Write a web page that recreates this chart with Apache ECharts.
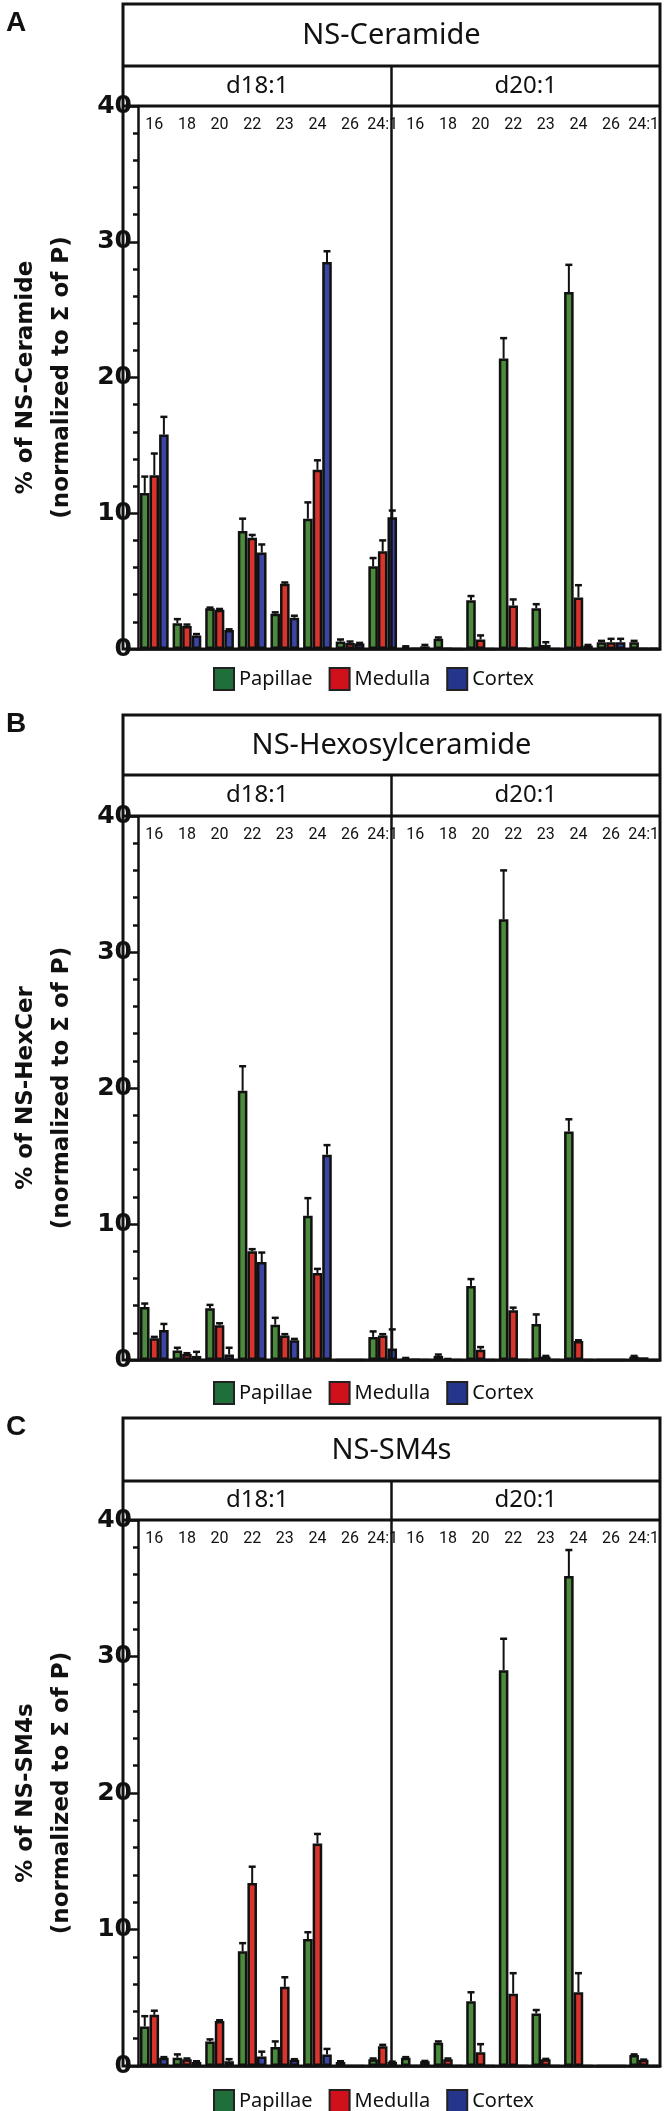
<!DOCTYPE html>
<html>
<head>
<meta charset="utf-8">
<script src="https://cdn.jsdelivr.net/npm/echarts@6/dist/echarts.min.js"></script>
<style>html,body{margin:0;padding:0;background:#fff;}#c{width:667px;height:2111px;}</style>
</head>
<body>
<div id="c"></div>
<script>
// ---------- DATA ----------
const tickLabels = ['16','18','20','22','23','24','26','24:1','16','18','20','22','23','24','26','24:1'];
const groupLabels = ['d18:1', 'd20:1'];
const seriesNames = ['Papillae', 'Medulla', 'Cortex'];
const panelTitles = ['NS-Ceramide', 'NS-Hexosylceramide', 'NS-SM4s'];
const panelLetters = ['A', 'B', 'C'];
const axisNames = ['% of NS-Ceramide', '% of NS-HexCer', '% of NS-SM4s'];
const axisSubName = '(normalized to \u03A3 of P)';
const yTicks = [0, 10, 20, 30, 40];

// NS-Ceramide
const cerPapillae = [11.5, 1.9, 3.0, 8.7, 2.6, 9.6, 0.55, 6.1,   0.15, 0.75, 3.6, 21.4, 3.0, 26.3, 0.5, 0.5];
const cerPapillaeErr = [1.2, 0.3, 0.05, 0.9, 0.1, 1.2, 0.15, 0.6,  0.05, 0.1, 0.3, 1.5, 0.3, 2.0, 0.1, 0.1];
const cerMedulla = [12.8, 1.7, 2.9, 8.2, 4.8, 13.2, 0.45, 7.2,   0.02, 0.05, 0.7, 3.2, 0.3, 3.8, 0.5, 0.05];
const cerMedullaErr = [1.6, 0.1, 0.05, 0.2, 0.1, 0.7, 0.1, 0.8,   0, 0, 0.3, 0.45, 0.2, 0.9, 0.25, 0];
const cerCortex = [15.8, 1.0, 1.4, 7.1, 2.3, 28.5, 0.4, 9.7,   0.2, 0, 0, 0.05, 0, 0.25, 0.5, 0.02];
const cerCortexErr = [1.3, 0.1, 0.05, 0.6, 0.15, 0.8, 0.05, 0.5,   0.1, 0, 0, 0, 0, 0.05, 0.25, 0];

// NS-HexCer
const hexPapillae = [3.9, 0.7, 3.8, 19.8, 2.6, 10.6, 0, 1.7,   0.1, 0.3, 5.45, 32.4, 2.65, 16.8, 0, 0.25];
const hexPapillaeErr = [0.25, 0.2, 0.25, 1.8, 0.5, 1.3, 0, 0.4,   0.05, 0.1, 0.5, 3.6, 0.7, 0.9, 0, 0.05];
const hexMedulla = [1.6, 0.45, 2.55, 8.0, 1.8, 6.4, 0, 1.8,   0.02, 0.15, 0.75, 3.65, 0.25, 1.4, 0, 0.2];
const hexMedullaErr = [0.1, 0.05, 0.15, 0.15, 0.1, 0.3, 0, 0.1,   0, 0, 0.2, 0.2, 0.05, 0.05, 0, 0];
const hexCortex = [2.2, 0.3, 0.4, 7.2, 1.45, 15.1, 0, 0.85,   0, 0, 0, 0, 0, 0, 0, 0];
const hexCortexErr = [0.45, 0.3, 0.5, 0.7, 0.1, 0.7, 0, 1.4,   0, 0, 0, 0, 0, 0, 0, 0];

// NS-SM4s
const smPapillae = [2.9, 0.6, 1.8, 8.4, 1.4, 9.3, 0.3, 0.5,   0.6, 1.7, 4.75, 29.0, 3.85, 35.9, 0, 0.8];
const smPapillaeErr = [0.75, 0.25, 0.15, 0.6, 0.4, 0.5, 0.05, 0.05,   0.05, 0.1, 0.65, 2.3, 0.25, 1.9, 0, 0.05];
const smMedulla = [3.75, 0.5, 3.3, 13.4, 5.8, 16.3, 0, 1.45,   0, 0.5, 1.0, 5.3, 0.5, 5.4, 0, 0.45];
const smMedullaErr = [0.3, 0.05, 0.05, 1.2, 0.7, 0.7, 0, 0.1,   0, 0.05, 0.6, 1.5, 0.02, 1.4, 0, 0.02];
const smCortex = [0.6, 0.3, 0.35, 0.7, 0.45, 0.85, 0, 0.3,   0.35, 0, 0, 0, 0, 0, 0, 0];
const smCortexErr = [0.05, 0.05, 0.15, 0.35, 0.05, 0.4, 0, 0.02,   0.02, 0, 0, 0, 0, 0, 0, 0];

const panelValues = [
  [cerPapillae, cerMedulla, cerCortex],
  [hexPapillae, hexMedulla, hexCortex],
  [smPapillae, smMedulla, smCortex]
];
const panelErrors = [
  [cerPapillaeErr, cerMedullaErr, cerCortexErr],
  [hexPapillaeErr, hexMedullaErr, hexCortexErr],
  [smPapillaeErr, smMedullaErr, smCortexErr]
];

// ---------- LAYOUT / STYLE ----------
const barColors = ['#4b8b3b', '#d7352b', '#3b45a3'];
const legendColors = ['#1f6e3c', '#d0101a', '#26358c'];
const gridLeft = 123, gridRight = 660;
const panels = [
  { boxTop: 4,    titleBottom: 66,   plotTop: 106,  plotBottom: 649,  legendMid: 673,  letterY: 23 },
  { boxTop: 715,  titleBottom: 775,  plotTop: 816,  plotBottom: 1360, legendMid: 1387, letterY: 724 },
  { boxTop: 1418, titleBottom: 1481, plotTop: 1520, plotBottom: 2066, legendMid: 2095, letterY: 1427 }
];
const CAT_GAP = 0.12;
const headFont = "'Noto Sans', 'DejaVu Sans', sans-serif";
const boldFont = "'DejaVu Sans', sans-serif";
const narrowFont = "'Roboto', 'Noto Sans', sans-serif";

const grid = [], xAxis = [], yAxis = [], series = [], legend = [], graphic = [];

panels.forEach((p, k) => {
  grid.push({ left: gridLeft, width: gridRight - gridLeft, top: p.plotTop, height: p.plotBottom - p.plotTop });
  // bottom axis (bars)
  xAxis.push({
    type: 'category', gridIndex: k, data: tickLabels, position: 'bottom',
    axisLine: { show: true, lineStyle: { color: '#111', width: 2.5 } },
    axisTick: { show: false }, axisLabel: { show: false }, splitLine: { show: false }
  });
  // top axis (tick labels)
  xAxis.push({
    type: 'category', gridIndex: k, data: tickLabels, position: 'top',
    axisLine: { show: false }, axisTick: { show: false },
    axisLabel: { show: true, inside: true, margin: 11, interval: 0,
      fontFamily: narrowFont, fontSize: 16, color: '#111' }
  });
  yAxis.push({
    type: 'value', gridIndex: k, min: 0, max: 40, interval: 10,
    name: axisNames[k] + '\n' + axisSubName,
    nameLocation: 'middle', nameRotate: 90, nameGap: 58,
    nameTextStyle: { fontFamily: boldFont, fontWeight: 'bold', fontSize: 23, color: '#111', lineHeight: 36, align: 'center' },
    axisLine: { show: true, lineStyle: { color: '#111', width: 2.5 } },
    axisTick: { show: true, length: 8, lineStyle: { color: '#111', width: 2.5 } },
    minorTick: { show: true, splitNumber: 5, length: 5, lineStyle: { color: '#111', width: 2.5 } },
    axisLabel: { fontFamily: boldFont, fontWeight: 'bold', fontSize: 25, color: '#111', margin: 6 },
    splitLine: { show: false }
  });
  const xBar = k * 2;
  seriesNames.forEach((name, s) => {
    series.push({
      type: 'bar', name: name, xAxisIndex: xBar, yAxisIndex: k,
      data: panelValues[k][s],
      barGap: '0%', barCategoryGap: (CAT_GAP * 100) + '%',
      itemStyle: { color: barColors[s], borderColor: '#111', borderWidth: 2.5 },
      emphasis: { disabled: true }, z: 2
    });
  });
  seriesNames.forEach((name, s) => {
    const vals = panelValues[k][s], errs = panelErrors[k][s];
    const data = [];
    errs.forEach((e, i) => { if (e > 0) data.push([i, vals[i], e]); });
    series.push({
      type: 'custom', name: name, xAxisIndex: xBar, yAxisIndex: k, data: data, z: 3,
      renderItem: function (params, api) {
        const cat = api.value(0), v = api.value(1), e = api.value(2);
        const base = api.coord([cat, v]);
        const top = api.coord([cat, v + e]);
        const band = api.size([1, 0])[0];
        const bw = band * (1 - CAT_GAP) / 3;
        const x = base[0] + (s - 1) * bw;
        return {
          type: 'group', children: [
            { type: 'line', shape: { x1: x, y1: base[1], x2: x, y2: top[1] }, style: { stroke: '#111', lineWidth: 2 } },
            { type: 'line', shape: { x1: x - 3.5, y1: top[1], x2: x + 3.5, y2: top[1] }, style: { stroke: '#111', lineWidth: 2.5 } }
          ]
        };
      }
    });
  });
  legend.push({
    top: p.legendMid - 11, left: 208, itemWidth: 20, itemHeight: 22, itemGap: 16, icon: 'rect',
    selectedMode: false,
    textStyle: { fontFamily: headFont, fontSize: 20, color: '#111' },
    data: seriesNames.map((n, s) => ({ name: n, itemStyle: { color: legendColors[s], borderColor: '#222', borderWidth: 2 } }))
  });
  // header box, title and group labels
  const mid = (gridLeft + gridRight) / 2;
  graphic.push(
    { type: 'rect', shape: { x: gridLeft, y: p.boxTop, width: gridRight - gridLeft, height: p.plotBottom - p.boxTop },
      style: { fill: 'none', stroke: '#111', lineWidth: 3 }, z: 10 },
    { type: 'line', shape: { x1: gridLeft, y1: p.titleBottom, x2: gridRight, y2: p.titleBottom }, style: { stroke: '#111', lineWidth: 3 }, z: 10 },
    { type: 'line', shape: { x1: gridLeft, y1: p.plotTop, x2: gridRight, y2: p.plotTop }, style: { stroke: '#111', lineWidth: 3 }, z: 10 },
    { type: 'line', shape: { x1: mid, y1: p.titleBottom, x2: mid, y2: p.plotBottom }, style: { stroke: '#111', lineWidth: 2.5 }, z: 10 },
    { type: 'text', x: mid, y: (p.boxTop + p.titleBottom) / 2 + 1, z: 10,
      style: { text: panelTitles[k], font: "29px " + headFont, fill: '#111', align: 'center', verticalAlign: 'middle' } },
    { type: 'text', x: (gridLeft + mid) / 2, y: (p.titleBottom + p.plotTop) / 2, z: 10,
      style: { text: groupLabels[0], font: "24px " + headFont, fill: '#111', align: 'center', verticalAlign: 'middle' } },
    { type: 'text', x: (mid + gridRight) / 2, y: (p.titleBottom + p.plotTop) / 2, z: 10,
      style: { text: groupLabels[1], font: "24px " + headFont, fill: '#111', align: 'center', verticalAlign: 'middle' } },
    { type: 'text', x: 16, y: p.letterY, z: 10,
      style: { text: panelLetters[k], font: "bold 28px 'Liberation Sans', Arial, sans-serif", fill: '#111', align: 'center', verticalAlign: 'middle' } }
  );
});

const chart = echarts.init(document.getElementById('c'), null, { renderer: 'canvas', width: 667, height: 2111 });
chart.setOption({
  animation: false,
  backgroundColor: '#fff',
  grid: grid, xAxis: xAxis, yAxis: yAxis, series: series, legend: legend, graphic: graphic
});
</script>
</body>
</html>
